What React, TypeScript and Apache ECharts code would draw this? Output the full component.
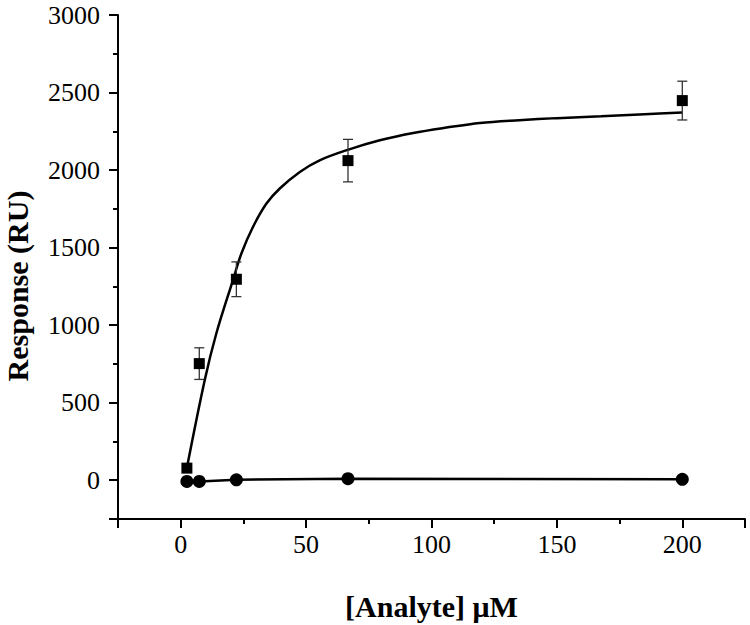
import React, { useEffect, useRef } from "react";
import * as echarts from "echarts";

// Analyte concentrations (µM)
const concentrations = [2.47, 7.41, 22.2, 66.7, 200];
// Sample response (RU), mean and error
const responseMeans = [78, 752, 1296, 2061, 2448];
const responseErrors = [0, 102, 112, 137, 125];
// Control response (RU)
const controlResponses = [-8, -8, 3, 10, 6];
// Fitted curve
const fitX = [2.47, 9.57, 14.2, 20.9, 24.2, 28.8, 34.2, 39.5, 47.5, 55.4, 66.9, 79.4, 92.7, 106, 119.3, 135, 150, 167.6, 185, 200];
const fitY = [80, 645, 946, 1294, 1462, 1633, 1784, 1881, 1988, 2063, 2132, 2192, 2239, 2274, 2304, 2322, 2335, 2347, 2360, 2371];

const xTitle = "[Analyte] μM";
const yTitle = "Response (RU)";

const FONT = "'Liberation Serif', 'Times New Roman', serif";

export default function App() {
  const ref = useRef<HTMLDivElement>(null);

  useEffect(() => {
    if (!ref.current) return;
    const chart = echarts.init(ref.current, null, { renderer: "svg" });

    const sampleData = concentrations.map((x, i) => [x, responseMeans[i]]);
    const controlData = concentrations.map((x, i) => [x, controlResponses[i]]);
    const fitData = fitX.map((x, i) => [x, fitY[i]]);
    const errData = concentrations
      .map((x, i) => [x, responseMeans[i] - responseErrors[i], responseMeans[i] + responseErrors[i], responseErrors[i]])
      .filter((d) => d[3] > 0);

    const axisCommon = {
      type: "value" as const,
      splitLine: { show: false },
      axisLine: { show: true, onZero: false, lineStyle: { color: "#000", width: 2 } },
      axisTick: { show: true, inside: false, length: 9, lineStyle: { color: "#000", width: 2 } },
      minorTick: { show: true, splitNumber: 2, length: 5, lineStyle: { color: "#000", width: 2 } },
      nameTextStyle: { fontFamily: FONT, fontSize: 30, fontWeight: "bold" as const, color: "#000" },
    };

    chart.setOption({
      animation: false,
      backgroundColor: "#fff",
      grid: { left: 118, right: 5, top: 15, bottom: 106, outerBoundsMode: "none" },
      xAxis: {
        ...axisCommon,
        min: -25,
        max: 225,
        splitNumber: 5,
        axisLabel: {
          fontFamily: FONT,
          fontSize: 26,
          color: "#000",
          margin: 12,
          formatter: (v: number) => (v % 50 === 0 ? String(v) : ""),
        },
        name: xTitle,
        nameLocation: "middle",
        nameGap: 72,
      },
      yAxis: {
        ...axisCommon,
        min: -250,
        max: 3000,
        splitNumber: 6,
        axisLabel: {
          fontFamily: FONT,
          fontSize: 26,
          color: "#000",
          margin: 18,
          formatter: (v: number) => (v % 500 === 0 && v >= 0 ? String(v) : ""),
        },
        name: yTitle,
        nameLocation: "middle",
        nameGap: 86,
        nameTextStyle: { ...axisCommon.nameTextStyle, padding: [0, 38, 0, 0] },
      },
      series: [
        {
          type: "line",
          data: fitData,
          smooth: 0.35,
          showSymbol: false,
          symbol: "none",
          lineStyle: { color: "#000", width: 2.5 },
          z: 2,
        },
        {
          type: "line",
          data: controlData,
          symbol: "circle",
          symbolSize: 13,
          itemStyle: { color: "#000", opacity: 1 },
          lineStyle: { color: "#000", width: 2.5 },
          z: 3,
        },
        {
          type: "custom",
          data: errData,
          encode: { x: 0, y: [1, 2] },
          z: 4,
          renderItem: (params: any, api: any) => {
            const x = api.value(0);
            const lo = api.coord([x, api.value(1)]);
            const hi = api.coord([x, api.value(2)]);
            const w = 5;
            const style = { stroke: "#333", lineWidth: 1.3 };
            return {
              type: "group",
              children: [
                { type: "line", shape: { x1: lo[0], y1: lo[1], x2: hi[0], y2: hi[1] }, style },
                { type: "line", shape: { x1: hi[0] - w, y1: hi[1], x2: hi[0] + w, y2: hi[1] }, style },
                { type: "line", shape: { x1: lo[0] - w, y1: lo[1], x2: lo[0] + w, y2: lo[1] }, style },
              ],
            };
          },
        },
        {
          type: "scatter",
          data: sampleData,
          symbol: "rect",
          symbolSize: 11,
          itemStyle: { color: "#000", opacity: 1 },
          z: 5,
        },
      ],
    });

    return () => chart.dispose();
  }, []);

  return (
    <div
      ref={ref}
      style={{ position: "absolute", left: 0, top: 0, width: 750, height: 625 }}
    />
  );
}
